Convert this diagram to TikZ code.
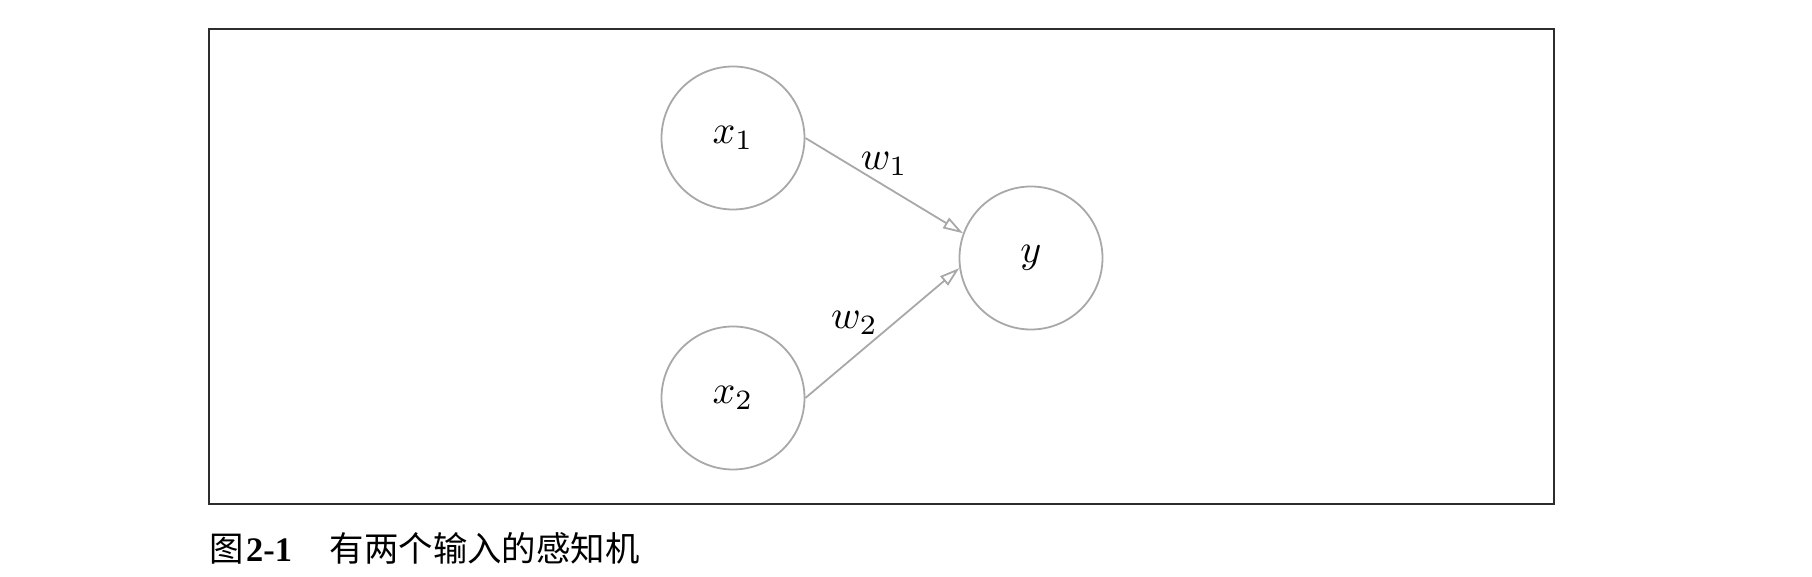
\documentclass[tikz,border=0pt]{standalone}
\usepackage{fontspec}
\newfontfamily\cjk{Noto Sans CJK SC}
\newfontfamily\capnum{Liberation Serif}
\usetikzlibrary{arrows.meta}
\definecolor{edgegray}{RGB}{168,168,168}
\definecolor{framegray}{RGB}{45,45,45}
\tikzset{
  unit/.style={circle, draw=edgegray, line width=0.45pt, minimum size=35.75pt, inner sep=0pt},
  link/.style={-{Triangle[open, length=5pt, width=3pt]}, draw=edgegray, line width=0.45pt},
}
\begin{document}
\begin{tikzpicture}[x=0.25pt, y=-0.25pt]
  \useasboundingbox (0,0) rectangle (1812,577);
  \draw[framegray, line width=0.4pt] (209,29) rectangle (1554,504);
  \node[unit] (A) at (733,138) {$x_1$};
  \node[unit] (B) at (733,398) {$x_2$};
  \node[unit] (C) at (1031,258) {$y$};
  \draw[link] (A.east) -- node[above, inner sep=2.3pt] {$w_1$} (C.160);
  \draw[link] (B.east) -- node[left, pos=0.58, inner sep=4pt] {$w_2$} (C.188);
  \node[anchor=base west, inner sep=0pt, font=\fontsize{8.6}{10}\selectfont] (T) at (209,561)
    {{\cjk 图}\hspace{0.5pt}{\capnum\bfseries 2-1}\hspace{1.1em}{\cjk 有两个输入的感知机}};
\end{tikzpicture}
\end{document}
